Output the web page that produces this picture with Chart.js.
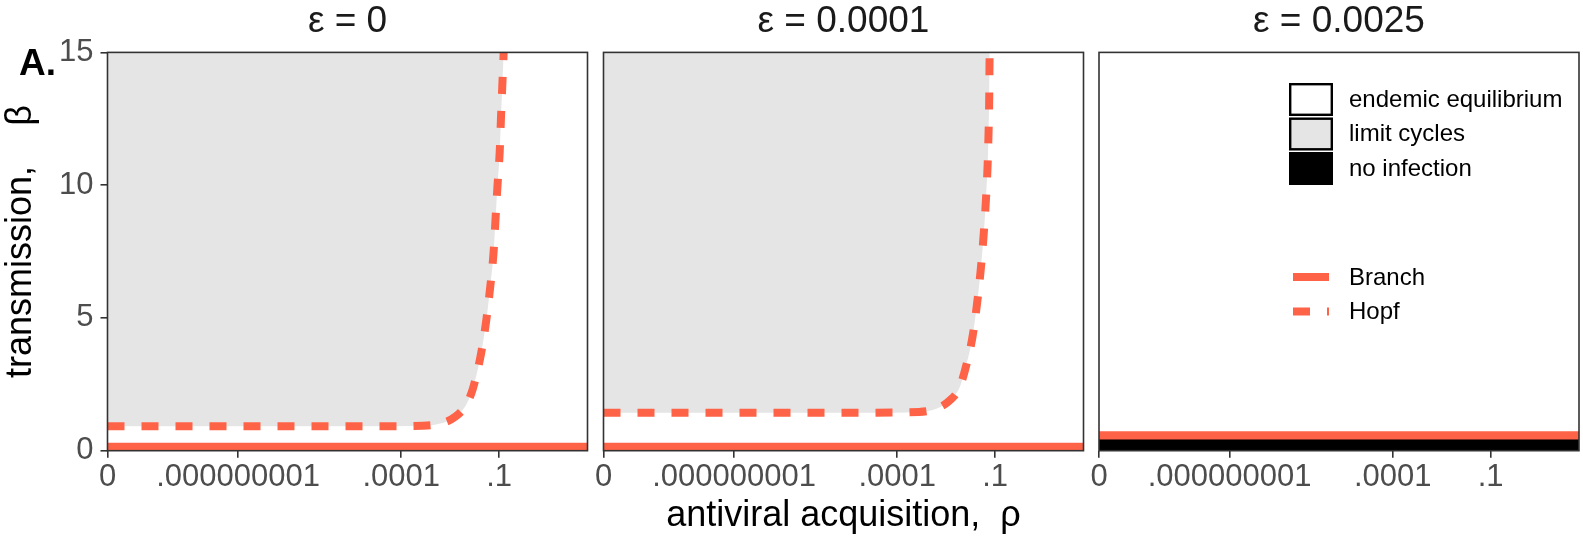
<!DOCTYPE html>
<html>
<head>
<meta charset="utf-8">
<script src="https://cdn.jsdelivr.net/npm/chart.js@4.4.1/dist/chart.umd.min.js"></script>
<style>
  html, body { margin: 0; padding: 0; background: #fff; }
  #wrap { position: relative; width: 1583px; height: 538px; }
  #wrap canvas { position: absolute; left: 0; top: 0; }
</style>
</head>
<body>
<div id="wrap">
  <canvas id="panel-1" width="1583" height="538"></canvas>
  <canvas id="panel-2" width="1583" height="538"></canvas>
  <canvas id="panel-3" width="1583" height="538"></canvas>
</div>
<script>
// x is log10(rho); the "0" tick sits on the left edge of each panel
const xTickPositions = [-13, -9, -4, -1];
const xTickLabels = ['0', '.000000001', '.0001', '.1'];
const xMin = -13;
const xMax = 1.71;
const yTickStep = 5;
const yMax = 15;

const panelTitles = ['ε = 0', 'ε = 0.0001', 'ε = 0.0025'];

// Hopf boundary (dashed)
const hopfRho1 = [-13, -8, -5, -3.34, -2.8, -2.33, -2.0, -1.8, -1.55, -1.39, -1.27, -1.17, -1.11, -1.05, -0.98, -0.94, -0.9, -0.86, -0.85];
const hopfBeta1 = [0.92, 0.92, 0.92, 0.94, 1.02, 1.29, 1.75, 2.35, 3.67, 4.93, 6.18, 7.44, 8.7, 9.95, 11.27, 12.59, 13.78, 14.98, 15.4];
const hopfRho2 = [-13, -8, -5, -3.33, -2.8, -2.37, -2.1, -1.92, -1.69, -1.55, -1.44, -1.35, -1.28, -1.23, -1.2, -1.18, -1.17, -1.16];
const hopfBeta2 = [1.43, 1.43, 1.43, 1.46, 1.58, 1.91, 2.35, 3.04, 4.3, 5.56, 6.81, 8.13, 9.45, 10.71, 11.96, 13.22, 14.6, 15.4];

// Branch line (solid)
const branchRho = [-13, 1.71];
const branchBeta1 = [0.16, 0.16];
const branchBeta2 = [0.16, 0.16];
const branchBeta3 = [0.58, 0.58];

const regionLabels = ['endemic equilibrium', 'limit cycles', 'no infection'];
const regionColors = ['#FFFFFF', '#E5E5E5', '#000000'];
const lineLabels = ['Branch', 'Hopf'];

const tomato = '#FF6347';
const fontFamily = "'Liberation Sans', Arial, Helvetica, sans-serif";

Chart.defaults.font.family = fontFamily;
Chart.defaults.animation = false;

function toPoints(xs, ys) {
    return xs.map((x, i) => ({x: x, y: ys[i]}));
}

const panelFrame = {
    id: 'panelFrame',
    afterDatasetsDraw(chart) {
        const {ctx, chartArea} = chart;
        ctx.save();
        ctx.strokeStyle = '#333333';
        ctx.lineWidth = 1.6;
        ctx.strokeRect(chartArea.left, chartArea.top, chartArea.right - chartArea.left, chartArea.bottom - chartArea.top);
        ctx.restore();
    }
};

const panelLetter = {
    id: 'panelLetter',
    afterDraw(chart) {
        const ctx = chart.ctx;
        ctx.save();
        ctx.fillStyle = '#000';
        ctx.font = 'bold 37px ' + fontFamily;
        ctx.textBaseline = 'alphabetic';
        ctx.fillText('A.', 19, 75);
        ctx.restore();
    }
};

const regionLegend = {
    id: 'regionLegend',
    afterDraw(chart) {
        const ctx = chart.ctx;
        ctx.save();
        ctx.font = '24px ' + fontFamily;
        ctx.textBaseline = 'middle';
        regionLabels.forEach((label, i) => {
            let top = 83 + i * 34.5;
            ctx.fillStyle = regionColors[i];
            ctx.fillRect(1289, top, 44, 33);
            ctx.strokeStyle = '#000';
            ctx.lineWidth = 2.4;
            ctx.strokeRect(1290.2, top + 1.2, 41.6, 30.6);
            ctx.fillStyle = '#000';
            ctx.fillText(label, 1349, top + 17);
        });
        lineLabels.forEach((label, i) => {
            let y = 277 + i * 34.5;
            ctx.strokeStyle = tomato;
            ctx.lineWidth = 8;
            ctx.lineCap = 'butt';
            ctx.setLineDash(i === 1 ? [17, 17] : []);
            ctx.beginPath();
            ctx.moveTo(1293, y);
            ctx.lineTo(1329, y);
            ctx.stroke();
            ctx.setLineDash([]);
            ctx.fillStyle = '#000';
            ctx.fillText(label, 1349, y + 1);
        });
        ctx.restore();
    }
};

function xScale(showTitle) {
    return {
        type: 'linear',
        min: xMin,
        max: xMax,
        afterBuildTicks: scale => {
            scale.ticks = xTickPositions.map(v => ({value: v}));
        },
        afterFit: scale => {
            scale.height = 87.3;
        },
        ticks: {
            autoSkip: false,
            maxRotation: 0,
            padding: 1,
            color: '#4D4D4D',
            font: {size: 31},
            callback: (value, index) => xTickLabels[index]
        },
        grid: {
            drawOnChartArea: false,
            drawTicks: true,
            tickLength: 7,
            color: '#333333',
            lineWidth: 1.6
        },
        border: {display: false},
        title: {
            display: showTitle,
            text: 'antiviral acquisition,  ρ',
            color: '#000',
            font: {size: 36, lineHeight: 1.2},
            padding: {top: 0, bottom: 0}
        }
    };
}

function yScale(show) {
    return {
        type: 'linear',
        display: show,
        min: 0,
        max: yMax,
        afterFit: scale => {
            scale.width = show ? 107.5 : 0;
        },
        ticks: {
            stepSize: yTickStep,
            padding: 7,
            color: '#4D4D4D',
            font: {size: 31}
        },
        grid: {
            drawOnChartArea: false,
            drawTicks: true,
            tickLength: 7,
            color: '#333333',
            lineWidth: 1.6
        },
        border: {display: false},
        title: {
            display: show,
            text: '  transmission,    β',
            color: '#000',
            font: {size: 36, lineHeight: 1.15},
            padding: {top: 0, bottom: 0}
        }
    };
}

function hopfDataset(xs, ys) {
    return {
        label: 'Hopf',
        data: toPoints(xs, ys),
        borderColor: tomato,
        borderWidth: 8,
        borderDash: [17, 17],
        borderCapStyle: 'butt',
        backgroundColor: '#E5E5E5',
        fill: 'end',
        cubicInterpolationMode: 'monotone',
        pointRadius: 0,
        clip: 0
    };
}

function branchDataset(ys, width, filled) {
    return {
        label: 'Branch',
        data: toPoints(branchRho, ys),
        borderColor: tomato,
        borderWidth: width,
        backgroundColor: '#000000',
        fill: filled ? 'origin' : false,
        pointRadius: 0,
        clip: 0
    };
}

function makePanel(canvasId, title, datasets, padding, showY, showXTitle, extraPlugins) {
    return new Chart(document.getElementById(canvasId), {
        type: 'line',
        data: {datasets: datasets},
        options: {
            responsive: false,
            layout: {padding: padding},
            plugins: {
                legend: {display: false},
                tooltip: {enabled: false},
                title: {
                    display: true,
                    text: title,
                    fullSize: false,
                    color: '#1A1A1A',
                    font: {size: 37, weight: 'normal', lineHeight: 1.2},
                    padding: {top: 0, bottom: 8}
                }
            },
            scales: {
                x: xScale(showXTitle),
                y: yScale(showY)
            }
        },
        plugins: [panelFrame].concat(extraPlugins)
    });
}

makePanel('panel-1', panelTitles[0],
    [hopfDataset(hopfRho1, hopfBeta1), branchDataset(branchBeta1, 7.3, false)],
    {left: 0, right: 1583 - 587.5, top: 0, bottom: 0}, true, false, [panelLetter]);

makePanel('panel-2', panelTitles[1],
    [hopfDataset(hopfRho2, hopfBeta2), branchDataset(branchBeta2, 7.3, false)],
    {left: 603.5, right: 1583 - 1083.5, top: 0, bottom: 0}, false, true, []);

makePanel('panel-3', panelTitles[2],
    [branchDataset(branchBeta3, 8.3, true)],
    {left: 1099, right: 4, top: 0, bottom: 0}, false, false, [regionLegend]);
</script>
</body>
</html>
